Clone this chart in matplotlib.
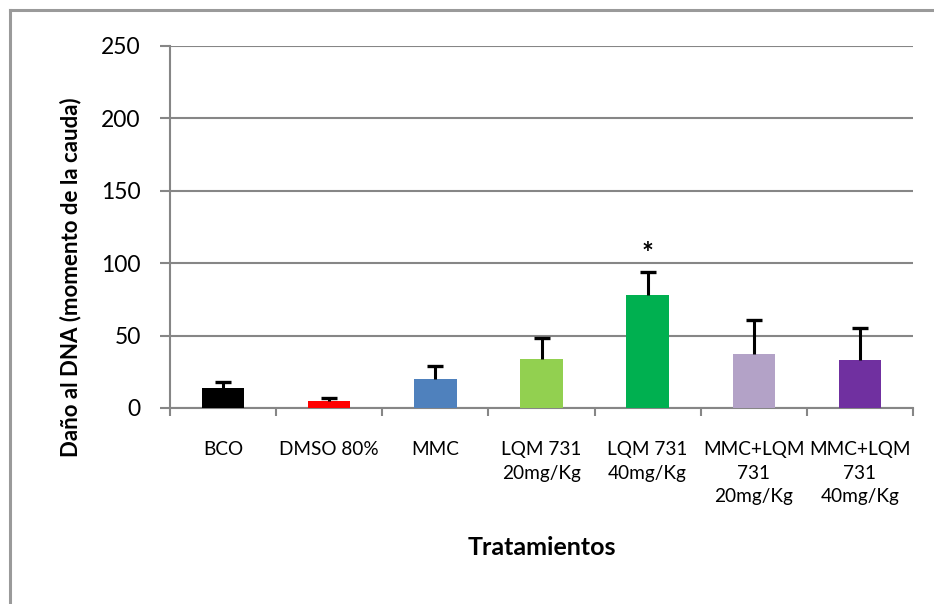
import matplotlib
matplotlib.use("Agg")
import matplotlib.pyplot as plt
from matplotlib.lines import Line2D

plt.rcParams['font.family'] = ['Lato', 'DejaVu Sans']

categorias = ["BCO", "DMSO 80%", "MMC", "LQM 731\n20mg/Kg", "LQM 731\n40mg/Kg",
              "MMC+LQM\n731\n20mg/Kg", "MMC+LQM\n731\n40mg/Kg"]
medias = [14, 5, 20, 34, 78, 37.5, 33]
errores = [4, 2, 9, 14, 16, 23, 22]
colores = ["#000000", "#FF0000", "#4F81BD", "#92D050", "#00B050", "#B3A2C7", "#7030A0"]
significativo = [False, False, False, False, True, False, False]

fig = plt.figure(figsize=(9.34, 6.04), dpi=100)
ax = fig.add_axes([170 / 934, 1 - 408 / 604, 743 / 934, 362 / 604])

x = list(range(len(categorias)))
topes = [m + e for m, e in zip(medias, errores)]
ax.bar(x, medias, width=0.4, color=colores, zorder=3)
# barras de error solo hacia arriba
ax.vlines(x, medias, topes, color='black', linewidth=2.2, zorder=4)
ax.plot(x, topes, linestyle='none', marker='_', markersize=11, markeredgewidth=2.4,
        color='black', zorder=4)

# asterisco sobre el tratamiento significativo
for i, (t, s) in enumerate(zip(topes, significativo)):
    if s:
        ax.text(i, t + 7, "*", ha='center', va='baseline', fontsize=20, fontweight='bold')

ax.set_xlim(-0.5, len(categorias) - 0.5)
ax.set_ylim(0, 250)
ax.set_yticks(range(0, 251, 50))
ax.yaxis.grid(True, color='#868686', linewidth=1.5, zorder=0)

ax.set_xticks(x)
ax.set_xticklabels(categorias, fontsize=13.7, linespacing=1.45, va='top')
ax.set_xticks([i - 0.5 for i in range(len(categorias) + 1)], minor=True)
ax.tick_params(axis='x', which='major', length=0, pad=24)
ax.tick_params(axis='x', which='minor', length=6, width=1.5, color='#868686')
ax.tick_params(axis='y', labelsize=16.5, length=7, width=1.5, color='#868686', pad=14)

for lado in ['top', 'right']:
    ax.spines[lado].set_visible(False)
for lado in ['left', 'bottom']:
    ax.spines[lado].set_color('#868686')
    ax.spines[lado].set_linewidth(1.5)

ax.set_ylabel("Daño al DNA (momento de la cauda)", fontsize=16, fontweight='bold')
ax.yaxis.set_label_coords(-89 / 743, 0.36)
ax.set_xlabel("Tratamientos", fontsize=18, fontweight='bold')
ax.xaxis.set_label_coords(0.5, -128 / 362)

# marco exterior del gráfico
fig.add_artist(Line2D([10 / 934, 10 / 934], [0, 1 - 10 / 604], color='#9a9a9a', linewidth=2.2))
fig.add_artist(Line2D([10 / 934, 1], [1 - 10 / 604, 1 - 10 / 604], color='#9a9a9a', linewidth=2.2))

fig.savefig("out.png", dpi=100)
